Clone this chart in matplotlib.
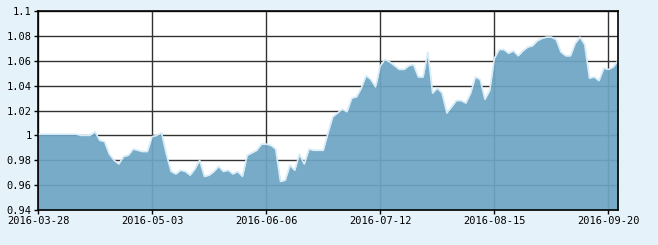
import matplotlib.pyplot as plt
import numpy as np

# 净值数据 (每个交易日一个点)
navValues = [
    1.001, 1.001, 1.001, 1.001, 1.001, 1.001, 1.001, 1.001, 1.001, 1.000,
    1.000, 1.000, 1.003, 0.996, 0.995, 0.985, 0.980, 0.977, 0.983, 0.984,
    0.989, 0.988, 0.987, 0.987, 0.999, 1.000, 1.002, 0.985, 0.971, 0.969,
    0.972, 0.971, 0.968, 0.973, 0.980, 0.967, 0.968, 0.971, 0.975, 0.971,
    0.972, 0.969, 0.971, 0.967, 0.984, 0.986, 0.988, 0.993, 0.993, 0.992,
    0.989, 0.963, 0.964, 0.976, 0.972, 0.985, 0.977, 0.989, 0.988, 0.988,
    0.988, 1.002, 1.015, 1.018, 1.021, 1.019, 1.030, 1.031, 1.038, 1.048,
    1.045, 1.039, 1.056, 1.061, 1.059, 1.056, 1.053, 1.053, 1.056, 1.057,
    1.047, 1.047, 1.067, 1.034, 1.038, 1.034, 1.018, 1.023, 1.028, 1.028,
    1.026, 1.034, 1.047, 1.045, 1.029, 1.036, 1.062, 1.069, 1.069, 1.066,
    1.068, 1.064, 1.068, 1.071, 1.072, 1.076, 1.078, 1.079, 1.079, 1.077,
    1.067, 1.064, 1.064, 1.074, 1.079, 1.073, 1.046, 1.047, 1.044, 1.054,
    1.053, 1.055, 1.060,
]

tickPositions = [0, 24, 48, 72, 96, 120]
tickLabels = ['2016-03-28', '2016-05-03', '2016-06-06', '2016-07-12', '2016-08-15', '2016-09-20']
yTicks = [0.94, 0.96, 0.98, 1.0, 1.02, 1.04, 1.06, 1.08, 1.1]
yLabels = ['0.94', '0.96', '0.98', '1', '1.02', '1.04', '1.06', '1.08', '1.1']

plt.rcParams['font.family'] = 'DejaVu Sans Mono'

fig = plt.figure(figsize=(6.58, 2.45), dpi=100, facecolor='#e6f2fa')
ax = fig.add_axes([38 / 658, 1 - 210 / 245, 580 / 658, 199 / 245])
ax.set_facecolor('white')

x = np.arange(len(navValues))

# 网格在填充下面, 填充带一点透明
ax.grid(True, color='#333333', linewidth=1.0)
ax.set_axisbelow(True)
ax.fill_between(x, 0.94, navValues, color='#6ea5c3', alpha=0.93, linewidth=0, zorder=2)
ax.plot(x, navValues, color='#d8ecf8', linewidth=1.2, zorder=3)

ax.set_xlim(0, len(navValues) - 1)
ax.set_ylim(0.94, 1.1)
ax.set_xticks(tickPositions)
ax.set_xticklabels(tickLabels)
ax.set_yticks(yTicks)
ax.set_yticklabels(yLabels)

ax.tick_params(axis='both', labelsize=7.5, length=3, width=1, color='black', pad=1.5)

for side in ['left', 'right', 'top', 'bottom']:
    ax.spines[side].set_color('black')
    ax.spines[side].set_linewidth(1.2)
    ax.spines[side].set_zorder(5)

plt.savefig('out.png', dpi=100, facecolor=fig.get_facecolor())
